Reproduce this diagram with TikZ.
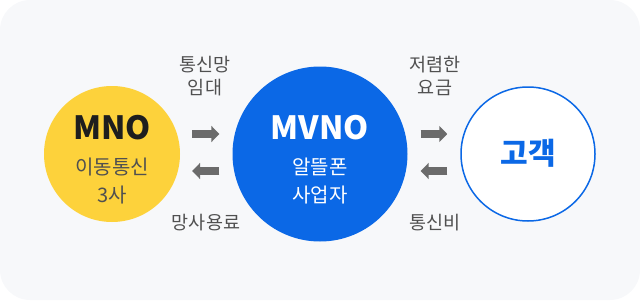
\documentclass[tikz,border=0pt]{standalone}
\usepackage{fontspec}
\setmainfont{Noto Sans CJK KR}
\usetikzlibrary{arrows.meta}
\definecolor{bgc}{HTML}{F7F8FA}
\definecolor{ylw}{HTML}{FDD23B}
\definecolor{blu}{HTML}{0B68E6}
\definecolor{txg}{HTML}{505050}
\definecolor{arg}{HTML}{6B6B6B}
\definecolor{dark}{HTML}{1E1E1E}
\tikzset{
  circ/.style={circle, minimum size=#1, inner sep=0pt},
  lbl/.style={font=\fontsize{18.5}{23}\selectfont, text=txg, align=center},
  big/.style={font=\fontsize{32}{34}\bfseries\selectfont},
  sub/.style={font=\fontsize{20}{27.5}\selectfont, align=center},
  blk/.style={arg, line width=8pt, -{Triangle[length=8pt,width=16pt]}}
}
\begin{document}
\begin{tikzpicture}[x=1pt,y=-1pt]
\useasboundingbox (0,0) rectangle (640,300);
\fill[bgc, rounded corners=30pt] (0,0) rectangle (640,300);
\node[circ=136pt, fill=ylw] (mno) at (112,154) {};
\node[circ=175pt, fill=blu] (mvno) at (320,154) {};
\node[circ=134pt, fill=white, draw=blu, line width=1.5pt] (cust) at (528,154) {};
\node[big, text=dark] (mnot) at (112,128) {MNO};
\node[sub, text=txg] (mnos) at (112,181) {이동통신\\3사};
\node[big, text=white] (mvnot) at (320,128) {MVNO};
\node[sub, text=white] (mvnos) at (320,181) {알뜰폰\\사업자};
\node[font=\fontsize{30}{32}\bfseries\selectfont, text=blu] (custt) at (528,153) {고객};
\node[lbl] (l1) at (205,76) {통신망\\임대};
\node[lbl] (l2) at (206,223) {망사용료};
\node[lbl] (l3) at (435,76) {저렴한\\요금};
\node[lbl] (l4) at (435,223) {통신비};
\draw[blk] ([xshift=12pt,yshift=20pt]mno.east) -- ([xshift=-13pt,yshift=20pt]mvno.west);
\draw[blk] ([xshift=-13pt,yshift=-17pt]mvno.west) -- ([xshift=12pt,yshift=-17pt]mno.east);
\draw[blk] ([xshift=13pt,yshift=20pt]mvno.east) -- ([xshift=-13pt,yshift=20pt]cust.west);
\draw[blk] ([xshift=-13pt,yshift=-17pt]cust.west) -- ([xshift=13pt,yshift=-17pt]mvno.east);
\end{tikzpicture}
\end{document}
